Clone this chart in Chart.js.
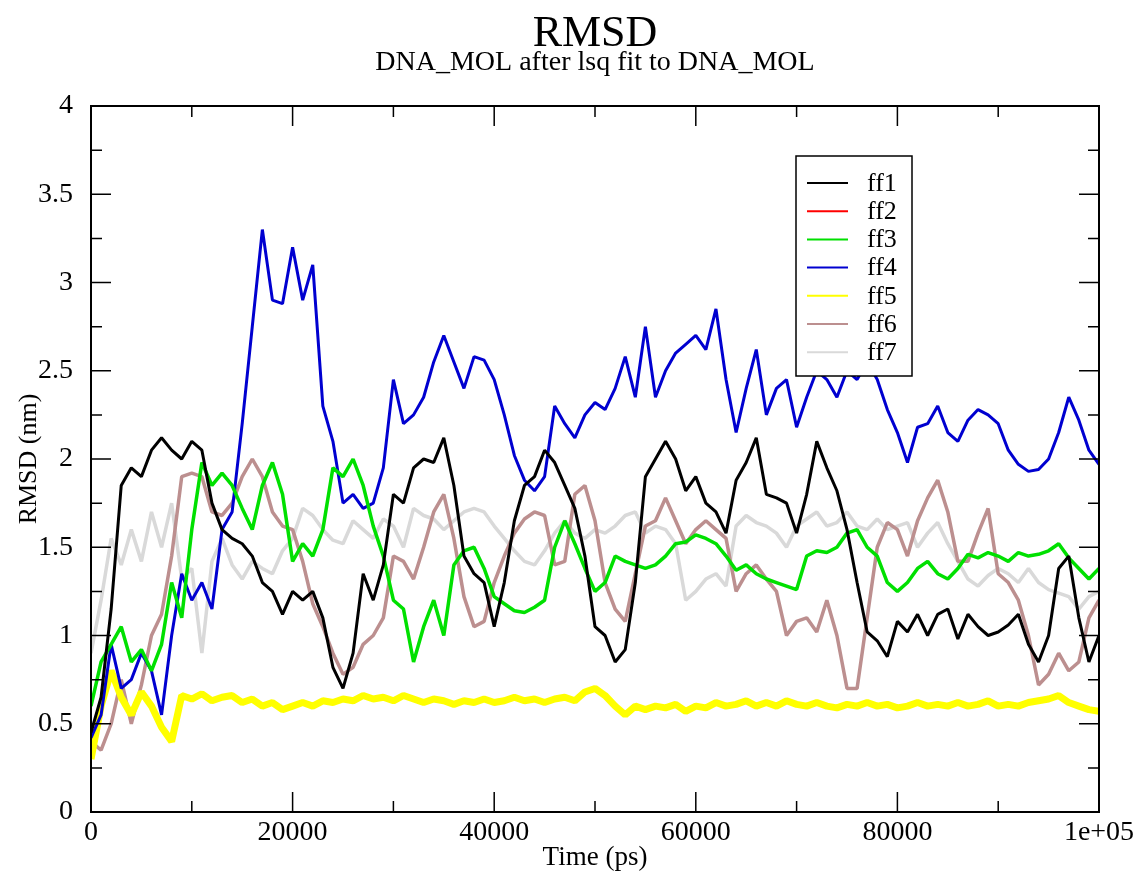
<!DOCTYPE html>
<html>
<head>
<meta charset="utf-8">
<title>RMSD</title>
<script src="https://cdn.jsdelivr.net/npm/chart.js@4.4.1/dist/chart.umd.min.js"></script>
<style>
  html, body { margin: 0; padding: 0; background: #fff; }
</style>
</head>
<body>
<canvas id="myChart" width="1140" height="880"></canvas>
<script>
"use strict";

const ctx = document.getElementById("myChart");

const serif = "'Liberation Serif', 'DejaVu Serif', serif";

// time axis, one sample every 1000 ps
const timePs = Array.from({ length: 101 }, (_, i) => i * 1000);

const xTicks = [0, 20000, 40000, 60000, 80000, 100000];
const yTicks = [0, 0.5, 1, 1.5, 2, 2.5, 3, 3.5, 4];

const seriesNames = ["ff1", "ff2", "ff3", "ff4", "ff5", "ff6", "ff7"];
const seriesColors = ["#000000", "#ff0000", "#00e000", "#0000d0", "#ffff00", "#bc8f8f", "#d9d9d9"];

const ff1 = [0.45,0.65,1.15,1.85,1.95,1.9,2.05,2.12,2.05,2.0,
  2.1,2.05,1.75,1.6,1.55,1.52,1.45,1.3,1.25,1.12,
  1.25,1.2,1.25,1.1,0.82,0.7,0.9,1.35,1.2,1.4,
  1.8,1.75,1.95,2.0,1.98,2.12,1.85,1.45,1.35,1.3,
  1.05,1.3,1.65,1.85,1.9,2.05,1.98,1.85,1.72,1.45,
  1.05,1.0,0.85,0.92,1.3,1.9,2.0,2.1,2.0,1.82,
  1.9,1.75,1.7,1.58,1.88,1.98,2.12,1.8,1.78,1.75,
  1.58,1.8,2.1,1.95,1.82,1.6,1.3,1.02,0.97,0.88,
  1.08,1.02,1.12,1.0,1.12,1.15,0.98,1.12,1.05,1.0,
  1.02,1.06,1.12,0.95,0.85,1.0,1.38,1.45,1.1,0.85,
  1.0];

const ff2 = [];

const ff3 = [0.6,0.85,0.95,1.05,0.85,0.92,0.8,0.95,1.3,1.1,
  1.6,1.98,1.85,1.92,1.85,1.72,1.6,1.85,1.98,1.8,
  1.42,1.52,1.45,1.6,1.95,1.9,2.0,1.85,1.62,1.45,
  1.2,1.15,0.85,1.05,1.2,1.0,1.4,1.48,1.5,1.38,
  1.22,1.18,1.14,1.13,1.16,1.2,1.5,1.65,1.52,1.38,
  1.25,1.3,1.45,1.42,1.4,1.38,1.4,1.45,1.52,1.53,
  1.57,1.55,1.52,1.45,1.37,1.4,1.35,1.32,1.3,1.28,
  1.26,1.45,1.48,1.47,1.5,1.58,1.6,1.5,1.45,1.3,
  1.25,1.3,1.38,1.42,1.35,1.32,1.38,1.46,1.44,1.47,
  1.45,1.42,1.47,1.45,1.46,1.48,1.52,1.44,1.38,1.32,
  1.38];

const ff4 = [0.42,0.55,0.95,0.7,0.75,0.9,0.8,0.55,1.0,1.35,
  1.2,1.3,1.15,1.6,1.7,2.2,2.75,3.3,2.9,2.88,
  3.2,2.9,3.1,2.3,2.1,1.75,1.8,1.72,1.75,1.95,
  2.45,2.2,2.25,2.35,2.55,2.7,2.55,2.4,2.58,2.56,
  2.45,2.25,2.02,1.88,1.82,1.9,2.3,2.2,2.12,2.25,
  2.32,2.28,2.4,2.58,2.35,2.75,2.35,2.5,2.6,2.65,
  2.7,2.62,2.85,2.45,2.15,2.4,2.62,2.25,2.4,2.45,
  2.18,2.35,2.5,2.45,2.35,2.5,2.45,2.55,2.45,2.28,
  2.15,1.98,2.18,2.2,2.3,2.15,2.1,2.22,2.28,2.25,
  2.2,2.05,1.97,1.93,1.94,2.0,2.15,2.35,2.22,2.05,
  1.97];

const ff5 = [0.3,0.6,0.8,0.65,0.55,0.68,0.6,0.48,0.4,0.66,
  0.64,0.67,0.63,0.65,0.66,0.62,0.64,0.6,0.62,0.58,
  0.6,0.62,0.6,0.63,0.62,0.64,0.63,0.66,0.64,0.65,
  0.63,0.66,0.64,0.62,0.64,0.63,0.61,0.63,0.62,0.64,
  0.62,0.63,0.65,0.63,0.64,0.62,0.64,0.65,0.63,0.68,
  0.7,0.66,0.6,0.55,0.6,0.58,0.6,0.59,0.61,0.57,
  0.6,0.59,0.62,0.6,0.61,0.63,0.6,0.62,0.6,0.63,
  0.61,0.6,0.62,0.6,0.59,0.61,0.6,0.62,0.6,0.61,
  0.59,0.6,0.62,0.6,0.61,0.6,0.62,0.6,0.61,0.63,
  0.6,0.61,0.6,0.62,0.63,0.64,0.66,0.62,0.6,0.58,
  0.57];

const ff6 = [0.4,0.35,0.5,0.75,0.5,0.72,1.0,1.12,1.45,1.9,
  1.92,1.9,1.7,1.68,1.75,1.9,2.0,1.9,1.7,1.62,
  1.6,1.42,1.18,1.05,0.9,0.78,0.82,0.95,1.0,1.1,
  1.45,1.42,1.32,1.5,1.7,1.8,1.55,1.22,1.05,1.08,
  1.3,1.45,1.58,1.66,1.7,1.68,1.4,1.42,1.8,1.85,
  1.65,1.3,1.15,1.08,1.35,1.62,1.65,1.78,1.65,1.52,
  1.6,1.65,1.6,1.55,1.25,1.35,1.4,1.32,1.25,1.0,
  1.08,1.1,1.02,1.2,1.0,0.7,0.7,1.1,1.5,1.64,
  1.6,1.45,1.65,1.78,1.88,1.7,1.42,1.42,1.58,1.72,
  1.35,1.3,1.2,1.0,0.72,0.78,0.9,0.8,0.85,1.1,
  1.2];

const ff7 = [0.9,1.2,1.55,1.4,1.6,1.42,1.7,1.5,1.75,1.32,
  1.38,0.9,1.42,1.55,1.4,1.32,1.42,1.38,1.35,1.48,
  1.55,1.72,1.68,1.6,1.54,1.52,1.65,1.6,1.55,1.66,
  1.62,1.5,1.72,1.68,1.66,1.6,1.65,1.7,1.72,1.7,
  1.62,1.55,1.48,1.42,1.4,1.48,1.58,1.65,1.58,1.55,
  1.6,1.58,1.62,1.68,1.7,1.58,1.62,1.6,1.52,1.2,
  1.25,1.32,1.35,1.28,1.62,1.68,1.64,1.62,1.58,1.5,
  1.62,1.66,1.7,1.62,1.64,1.7,1.62,1.6,1.66,1.6,
  1.62,1.64,1.5,1.58,1.64,1.52,1.42,1.32,1.28,1.34,
  1.38,1.35,1.3,1.38,1.3,1.26,1.24,1.22,1.15,1.22,
  1.25];

const seriesValues = [ff1, ff2, ff3, ff4, ff5, ff6, ff7];
const lineWidths = [3, 3, 3.5, 3, 7, 3.5, 3.5];

const datasets = seriesNames.map((name, i) => ({
  label: name,
  data: seriesValues[i].map((v, j) => ({ x: timePs[j], y: v })),
  borderColor: seriesColors[i],
  backgroundColor: seriesColors[i],
  borderWidth: lineWidths[i],
  borderJoinStyle: "bevel",
  pointRadius: 0,
  tension: 0,
  fill: false,
}));

// frame with inside ticks on all four sides, titles and the boxed legend
const gracePlugin = {
  id: "grace",
  afterDatasetsDraw(chart) {
    const { ctx, chartArea: a, scales } = chart;
    ctx.save();
    ctx.strokeStyle = "#000";
    ctx.lineWidth = 2;
    ctx.strokeRect(a.left, a.top, a.right - a.left, a.bottom - a.top);

    ctx.lineWidth = 1.5;
    ctx.beginPath();
    for (let t = 0; t <= 100000; t += 10000) {
      const x = scales.x.getPixelForValue(t);
      const len = t % 20000 === 0 ? 20 : 11;
      ctx.moveTo(x, a.bottom);
      ctx.lineTo(x, a.bottom - len);
      ctx.moveTo(x, a.top);
      ctx.lineTo(x, a.top + len);
    }
    for (let k = 0; k <= 16; k++) {
      const v = k * 0.25;
      const y = scales.y.getPixelForValue(v);
      const len = k % 2 === 0 ? 20 : 11;
      ctx.moveTo(a.left, y);
      ctx.lineTo(a.left + len, y);
      ctx.moveTo(a.right, y);
      ctx.lineTo(a.right - len, y);
    }
    ctx.stroke();

    // titles
    const cx = (a.left + a.right) / 2;
    ctx.fillStyle = "#000";
    ctx.textAlign = "center";
    ctx.textBaseline = "alphabetic";
    ctx.font = "44px " + serif;
    ctx.fillText("RMSD", cx, 46);
    ctx.font = "28px " + serif;
    ctx.fillText("DNA_MOL after lsq fit to DNA_MOL", cx, 70);

    // legend
    const lx = 796, ly = 156, lw = 116, lh = 220;
    ctx.fillStyle = "#fff";
    ctx.fillRect(lx, ly, lw, lh);
    ctx.lineWidth = 1.5;
    ctx.strokeStyle = "#000";
    ctx.strokeRect(lx, ly, lw, lh);
    ctx.textAlign = "left";
    ctx.textBaseline = "middle";
    ctx.font = "26px " + serif;
    seriesNames.forEach((name, i) => {
      const y = 183 + i * 28.2;
      ctx.strokeStyle = seriesColors[i];
      ctx.lineWidth = 2;
      ctx.beginPath();
      ctx.moveTo(807, y);
      ctx.lineTo(848, y);
      ctx.stroke();
      ctx.fillStyle = "#000";
      ctx.fillText(name, 867, y + 1);
    });
    ctx.restore();
  },
};

const config = {
  type: "line",
  data: { datasets: datasets },
  options: {
    responsive: false,
    animation: false,
    layout: {
      padding: { top: 106, right: 41, left: 0, bottom: 0 },
    },
    scales: {
      x: {
        type: "linear",
        min: 0,
        max: 100000,
        afterFit: (scale) => {
          scale.height = 68;
        },
        afterBuildTicks: (scale) => {
          scale.ticks = xTicks.map((v) => ({ value: v }));
        },
        grid: { display: false },
        border: { display: false },
        ticks: {
          autoSkip: false,
          maxRotation: 0,
          padding: -4,
          color: "#000",
          font: { family: serif, size: 28 },
          callback: (v) => (v === 100000 ? "1e+05" : String(v)),
        },
        title: {
          display: true,
          text: "Time (ps)",
          color: "#000",
          font: { family: serif, size: 27 },
          padding: { top: 0, bottom: 6 },
        },
      },
      y: {
        type: "linear",
        min: 0,
        max: 4,
        afterFit: (scale) => {
          scale.width = 91;
        },
        afterBuildTicks: (scale) => {
          scale.ticks = yTicks.map((v) => ({ value: v }));
        },
        grid: { display: false },
        border: { display: false },
        ticks: {
          padding: 10,
          color: "#000",
          font: { family: serif, size: 28 },
          callback: (v) => String(v),
        },
        title: {
          display: true,
          text: "RMSD (nm)",
          color: "#000",
          font: { family: serif, size: 26 },
          padding: { top: 14, bottom: 0 },
        },
      },
    },
    plugins: {
      legend: { display: false },
      tooltip: { enabled: false },
    },
  },
  plugins: [gracePlugin],
};

new Chart(ctx, config);
</script>
</body>
</html>
